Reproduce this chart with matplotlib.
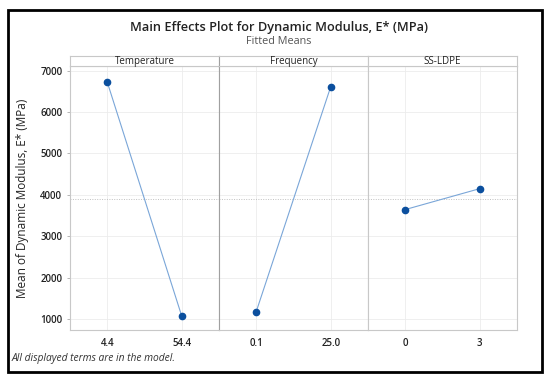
import matplotlib
matplotlib.use("Agg")
import matplotlib.pyplot as plt
from matplotlib.patches import Rectangle

factors = ["Temperature", "Frequency", "SS-LDPE"]
levels = [["4.4", "54.4"], ["0.1", "25.0"], ["0", "3"]]
means = [[6725, 1070], [1180, 6615], [3645, 4150]]
overall_mean = 3898
yticks = [1000, 2000, 3000, 4000, 5000, 6000, 7000]

plt.rcParams['font.family'] = ['Open Sans', 'DejaVu Sans']

W, H = 550, 379
fig = plt.figure(figsize=(W/100, H/100), dpi=100)

# outer frame
fig.patches.append(Rectangle((8/W, 1 - 372/H), (542-8)/W, (372-10)/H,
                             transform=fig.transFigure, fill=False,
                             edgecolor='black', linewidth=2))

left, right = 70, 517
top_plot, bottom_plot = 66, 330
strip_top = 56
pw = (right - left) / 3
grid_c = '#ececec'
edge_c = '#c8c8c8'
ymin, ymax = 735, 7113

axes = []
for i, (f, lv, m) in enumerate(zip(factors, levels, means)):
    x0 = left + i * pw
    ax = fig.add_axes([x0/W, 1 - bottom_plot/H, pw/W, (bottom_plot - top_plot)/H])
    xs = list(range(len(lv)))
    ax.axhline(overall_mean, color='#c0c0c0', lw=0.7, ls=(0, (1, 1.5)), zorder=1)
    ax.plot(xs, m, color='#7aa6d8', lw=0.8, zorder=2)
    ax.plot(xs, m, 'o', color='#0b4f9e', ms=4.5, zorder=3)
    ax.set_xlim(-0.5, 1.5)
    ax.set_ylim(ymin, ymax)
    ax.set_xticks(xs)
    ax.set_xticklabels(lv, fontsize=7, color='#222222', fontweight='semibold')
    ax.set_yticks(yticks)
    ax.grid(True, color=grid_c, lw=0.6)
    ax.set_axisbelow(True)
    ax.tick_params(axis='x', length=0, pad=6)
    ax.tick_params(axis='y', length=2.5, width=0.6, color='#aaaaaa', pad=3)
    for s in ax.spines.values():
        s.set_color(edge_c)
        s.set_linewidth(0.8)
    if i == 0:
        ax.set_yticklabels([str(v) for v in yticks], fontsize=7,
                           color='#222222', fontweight='semibold')
        ax.set_ylabel("Mean of Dynamic Modulus, E* (MPa)", fontsize=8.5,
                      color='#222222', labelpad=8)
    else:
        ax.tick_params(axis='y', length=0)
        ax.set_yticklabels([])
    if i == 1:
        ax.spines['left'].set_color('#a0a0a0')
    axes.append(ax)

    sax = fig.add_axes([x0/W, 1 - top_plot/H, pw/W, (top_plot - strip_top)/H])
    sax.set_xticks([]); sax.set_yticks([])
    for s in sax.spines.values():
        s.set_color(edge_c)
        s.set_linewidth(0.8)
    if i == 1:
        sax.spines['left'].set_color('#a0a0a0')
    sax.text(0.5, 0.45, f, ha='center', va='center', fontsize=7,
             color='#222222', transform=sax.transAxes)

fig.text(279/W, 1 - 28/H, "Main Effects Plot for Dynamic Modulus, E* (MPa)",
         ha='center', va='center', fontsize=9.2, fontweight='semibold',
         color='#222222')
fig.text(279/W, 1 - 42/H, "Fitted Means", ha='center', va='center',
         fontsize=7.8, color='#555555')
fig.text(12/W, 1 - 358/H, "All displayed terms are in the model.",
         ha='left', va='center', fontsize=7.4, style='italic', color='#333333')

fig.savefig("out.png", dpi=100)
